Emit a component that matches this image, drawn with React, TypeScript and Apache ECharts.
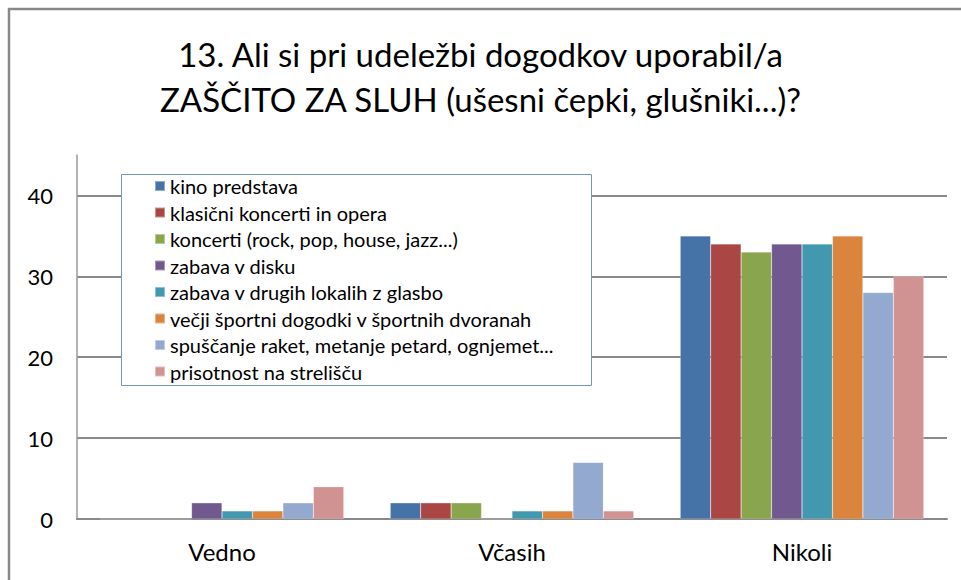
import React, { useEffect, useRef } from "react";
import * as echarts from "echarts";

const categories = ["Vedno", "Včasih", "Nikoli"];
const seriesNames = [
  "kino predstava",
  "klasični koncerti in opera",
  "koncerti (rock, pop, house, jazz...)",
  "zabava v disku",
  "zabava v drugih lokalih z glasbo",
  "večji športni dogodki v športnih dvoranah",
  "spuščanje raket, metanje petard, ognjemet...",
  "prisotnost na strelišču",
];
const kino = [0, 2, 35];
const klasicni = [0, 2, 34];
const koncerti = [0, 2, 33];
const disko = [2, 0, 34];
const lokali = [1, 1, 34];
const sport = [1, 1, 35];
const rakete = [2, 7, 28];
const strelisce = [4, 1, 30];
const seriesValues = [kino, klasicni, koncerti, disko, lokali, sport, rakete, strelisce];
const colors = ["#4572A7", "#AA4643", "#89A54E", "#71588F", "#4198AF", "#DB843D", "#93A9CF", "#D19392"];
const titleText = "13. Ali si pri udeležbi dogodkov uporabil/a\nZAŠČITO ZA SLUH (ušesni čepki, glušniki...)?";

const FONT = "Lato, 'Open Sans', sans-serif";

export default function App() {
  const ref = useRef<HTMLDivElement>(null);
  useEffect(() => {
    document.body.style.margin = "0";
    const chart = echarts.init(ref.current!, null, { renderer: "svg" });
    chart.setOption({
      animation: false,
      backgroundColor: "#ffffff",
      color: colors,
      title: {
        text: titleText,
        left: "center",
        top: 26,
        textStyle: { fontFamily: FONT, fontSize: 33, fontWeight: "normal", color: "#000", lineHeight: 45 },
      },
      graphic: [
        {
          type: "rect",
          shape: { x: 9, y: 9, width: 1000, height: 650 },
          style: { fill: "none", stroke: "#888888", lineWidth: 2.5 },
          z: 1,
        },
        {
          type: "rect",
          shape: { x: 121.5, y: 174.5, width: 470, height: 211 },
          style: { fill: "#ffffff", stroke: "#6F97CC", lineWidth: 1 },
          z: 5,
        },
      ],
      legend: {
        orient: "vertical",
        left: 154,
        top: 176,
        padding: 0,
        z: 6,
        itemWidth: 10,
        itemHeight: 10,
        itemGap: 6.5,
        icon: "rect",
        textStyle: { fontFamily: FONT, fontSize: 20, color: "#000", lineHeight: 20 },
        data: seriesNames,
      },
      grid: { left: 77, right: 14, top: 155, bottom: 61, containLabel: false },
      xAxis: {
        type: "category",
        data: categories,
        axisLine: { lineStyle: { color: "#888888", width: 2 } },
        axisTick: { show: false },
        axisLabel: { fontFamily: FONT, fontSize: 24, color: "#000", margin: 20 },
      },
      yAxis: {
        type: "value",
        min: 0,
        max: 45,
        interval: 10,
        axisLine: { show: true, lineStyle: { color: "#9a9a9a", width: 1.5 } },
        axisTick: { show: false },
        axisLabel: { fontFamily: FONT, fontSize: 22, color: "#000", margin: 24, showMaxLabel: false },
        splitLine: { showMaxLine: false, lineStyle: { color: "#8a8a8a", width: 2 } },
      },
      series: seriesNames.map((name, i) => ({
        name,
        type: "bar",
        data: seriesValues[i],
        barGap: "0%",
        barCategoryGap: "16%",
        itemStyle: { color: colors[i], borderColor: "rgba(255,255,255,0.4)", borderWidth: 0.5 },
      })),
    });
    return () => chart.dispose();
  }, []);
  return <div ref={ref} style={{ width: 961, height: 580 }} />;
}
